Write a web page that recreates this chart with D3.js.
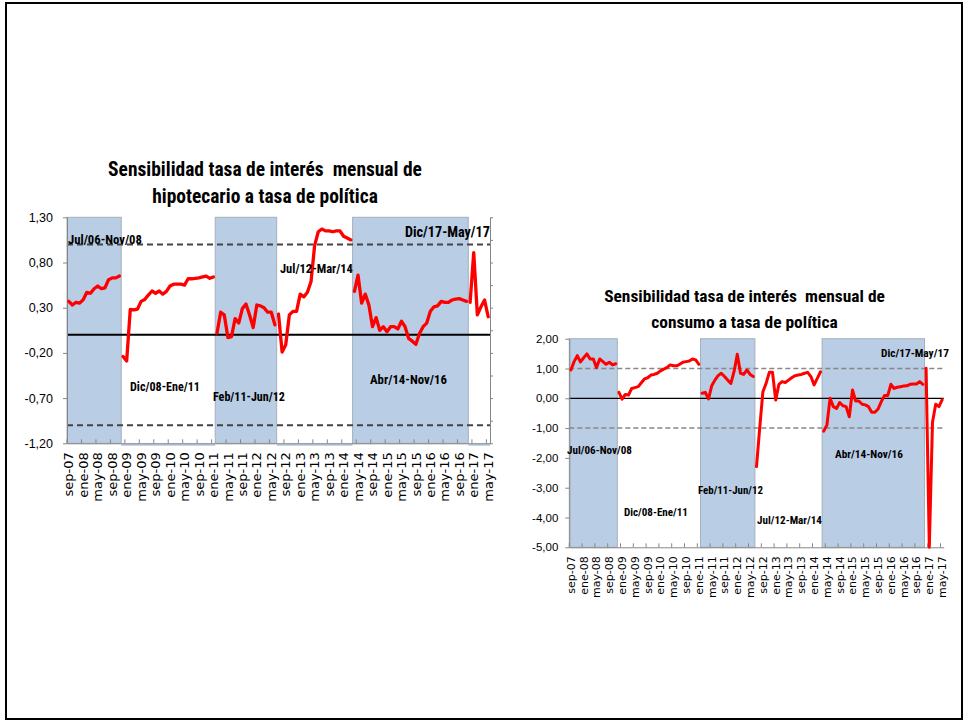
<!DOCTYPE html>
<html><head><meta charset="utf-8">
<script src="https://cdn.jsdelivr.net/npm/d3@7"></script>
<style>
body{margin:0;background:#fff}
svg{display:block}
text{white-space:pre}
</style>
</head><body>
<svg id="c" width="966" height="721"></svg>
<script>
// ---------------- DATA ----------------
const monthAbbr = ["ene","feb","mar","abr","may","jun","jul","ago","sep","oct","nov","dic"];
const firstMonth = 8, firstYear = 7, nMonths = 117; // sep-07 .. may-17
const categories = d3.range(nMonths).map(i => monthAbbr[(firstMonth + i) % 12] + "-" + String(firstYear + Math.floor((firstMonth + i) / 12)).padStart(2, "0"));
const tickLabels = ["sep-07","ene-08","may-08","sep-08","ene-09","may-09","sep-09","ene-10","may-10","sep-10",
  "ene-11","may-11","sep-11","ene-12","may-12","sep-12","ene-13","may-13","sep-13","ene-14",
  "may-14","sep-14","ene-15","may-15","sep-15","ene-16","may-16","sep-16","ene-17","may-17"];

const regimeNames  = ["Jul/06-Nov/08","Dic/08-Ene/11","Feb/11-Jun/12","Jul/12-Mar/14","Abr/14-Nov/16","Dic/17-May/17"];
const regimeStart  = ["sep-07","dic-08","feb-11","jul-12","abr-14","dic-16"];
const regimeEnd    = ["nov-08","ene-11","jun-12","mar-14","nov-16","may-17"];
const regimeShaded = [true,false,true,false,true,false];

const hipTitle = ["Sensibilidad tasa de interés  mensual de","hipotecario a tasa de política"];
const hipTickValues = [1.3,0.8,0.3,-0.2,-0.7,-1.2];
const hipTickLabels = ["1,30","0,80","0,30","-0,20","-0,70","-1,20"];
const hipValues = [
  0.37,0.33,0.36,0.35,0.39,0.47,0.46,0.51,0.54,0.51,0.52,0.61,0.63,0.63,0.65,
  -0.24,-0.29,0.28,0.275,0.285,0.37,0.39,0.44,0.485,0.46,0.485,0.45,0.48,0.54,0.56,0.56,0.56,0.55,0.62,0.62,0.625,0.63,0.64,0.65,0.625,0.64,
  0.02,0.25,0.22,-0.03,-0.02,0.18,0.13,0.29,0.34,0.22,0.08,0.33,0.32,0.30,0.25,0.25,0.11,
  0.23,-0.19,-0.11,0.22,0.26,0.26,0.45,0.42,0.47,0.59,0.99,1.14,1.17,1.15,1.15,1.14,1.15,1.15,1.09,1.07,1.05,
  0.48,0.66,0.35,0.45,0.33,0.09,0.19,0.05,0.09,0.035,0.09,0.09,0.065,0.15,0.09,-0.04,-0.07,-0.105,0.015,0.09,0.13,0.26,0.31,0.32,0.37,0.36,0.36,0.385,0.395,0.40,0.385,0.37,
  0.36,0.91,0.22,0.31,0.385,0.20
];

const conTitle = ["Sensibilidad tasa de interés  mensual de","consumo a tasa de política"];
const conTickValues = [2,1,0,-1,-2,-3,-4,-5];
const conTickLabels = ["2,00","1,00","0,00","-1,00","-2,00","-3,00","-4,00","-5,00"];
const conValues = [
  0.95,1.23,1.43,1.22,1.36,1.49,1.32,1.32,1.03,1.32,1.23,1.14,1.21,1.12,1.16,
  0.20,-0.03,0.13,0.11,0.33,0.36,0.39,0.52,0.65,0.69,0.78,0.80,0.84,0.92,0.98,1.03,1.12,1.09,1.09,1.14,1.21,1.23,1.25,1.32,1.29,1.14,
  0.17,0.20,-0.02,0.42,0.61,0.76,0.84,0.73,0.61,0.50,0.90,1.48,0.84,0.80,0.95,0.80,0.73,
  -2.29,-1.0,0.22,0.50,0.87,0.87,-0.06,0.47,0.56,0.53,0.61,0.69,0.76,0.78,0.80,0.84,0.87,0.73,0.45,0.67,0.89,
  -1.10,-0.90,0.0,-0.28,-0.34,-0.14,-0.25,-0.28,-0.62,0.28,-0.09,-0.09,-0.20,-0.22,-0.28,-0.47,-0.47,-0.36,-0.11,0.09,0.09,0.47,0.33,0.37,0.39,0.41,0.42,0.47,0.48,0.48,0.56,0.47,
  1.01,-5.0,-0.8,-0.2,-0.28,-0.05
];

// ---------------- DRAW ----------------
const svg = d3.select("#c");
svg.append("rect").attr("width",966).attr("height",721).attr("fill","#fff");
svg.append("rect").attr("x",6).attr("y",3).attr("width",956).attr("height",716)
  .attr("fill","none").attr("stroke","#000").attr("stroke-width",2);

const NARROW = "'Liberation Sans Narrow','Arial Narrow','Roboto Condensed','Liberation Sans',sans-serif";

function fit(sel, target){
  const w = sel.node().getComputedTextLength();
  const fs = parseFloat(sel.attr("font-size"));
  const nf = fs * target / w;
  sel.attr("font-size", nf);
  return nf;
}

function drawChart(cfg){
  const g = svg.append("g");
  const x = d3.scaleBand().domain(categories).range([cfg.x0, cfg.x1]).padding(0);
  const bw = x.bandwidth();
  const cx = c => x(c) + bw/2;
  const y = d3.scaleLinear().domain(cfg.domain).range([cfg.yBottom, cfg.yTop]);
  const [ymin, ymax] = cfg.domain;

  // regime bands
  regimeNames.forEach((name, r) => {
    const xs = x(regimeStart[r]), xe = x(regimeEnd[r]) + bw;
    if (regimeShaded[r]) {
      g.append("rect").attr("x", xs).attr("y", y(ymax)).attr("width", xe - xs).attr("height", y(ymin) - y(ymax))
        .attr("fill", "#b9cde5").attr("stroke", "#a6b0bb").attr("stroke-width", 1);
    } else if (cfg.strip) {
      g.append("rect").attr("x", xs).attr("y", y(ymin)).attr("width", xe - xs).attr("height", 2.5)
        .attr("fill", "#b9cde5");
    }
  });

  // reference lines
  [1, -1].forEach(v => {
    g.append("line").attr("x1", cfg.x0).attr("x2", cfg.x1).attr("y1", y(v)).attr("y2", y(v))
      .attr("stroke", cfg.dashColor).attr("stroke-width", cfg.dashWidth).attr("stroke-dasharray", cfg.dash);
  });
  g.append("line").attr("x1", cfg.x0).attr("x2", cfg.x1).attr("y1", y(0)).attr("y2", y(0))
    .attr("stroke", "#000").attr("stroke-width", cfg.zeroWidth);

  // left axis
  const ya = g.append("g").attr("transform", `translate(${cfg.x0},0)`)
    .call(d3.axisLeft(y).tickValues(cfg.tickValues).tickFormat((d, i) => cfg.tickLabels[i]).tickSizeInner(4).tickSizeOuter(0).tickPadding(cfg.yPad));
  ya.select(".domain").attr("stroke", "#868686");
  ya.selectAll(".tick line").attr("stroke", "#868686");
  ya.selectAll("text").attr("font-family", "'Liberation Sans',Arial,sans-serif").attr("font-size", cfg.yFont).attr("fill", "#000");

  // right minor axis
  if (cfg.rightAxis) {
    const ra = g.append("g").attr("transform", `translate(${cfg.x1},0)`)
      .call(d3.axisRight(y).tickValues(d3.range(0, 11).map(k => ymin + k * 0.25)).tickFormat("").tickSizeInner(3).tickSizeOuter(0));
    ra.select(".domain").attr("stroke", "#868686");
    ra.selectAll(".tick line").attr("stroke", "#868686");
  }

  // bottom axis
  const labelCats = categories.filter(c => tickLabels.includes(c));
  const xa = g.append("g").attr("transform", `translate(0,${cfg.yBottom})`)
    .call(d3.axisBottom(x).tickValues(labelCats).tickSize(0).tickPadding(0));
  xa.select(".domain").attr("stroke", "#868686");
  xa.selectAll("text")
    .attr("transform", "rotate(-90)").attr("text-anchor", "end")
    .attr("x", -cfg.xLabOff).attr("y", 0).attr("dy", "0.36em")
    .attr("font-family", "'DejaVu Sans',sans-serif").attr("font-size", cfg.xFont).attr("fill", "#000");
  // upward tick marks every 4 months
  g.append("g").selectAll("line").data(d3.range(0, nMonths + 1, 4)).join("line")
    .attr("x1", i => cfg.x0 + i * bw).attr("x2", i => cfg.x0 + i * bw)
    .attr("y1", cfg.yBottom).attr("y2", cfg.yBottom - 4)
    .attr("stroke", "#868686").attr("stroke-width", 1);

  // series
  const line = d3.line().x(c => cx(c)).y(c => y(cfg.values[categories.indexOf(c)]));
  regimeNames.forEach((name, r) => {
    const cats = categories.slice(categories.indexOf(regimeStart[r]), categories.indexOf(regimeEnd[r]) + 1);
    g.append("path").datum(cats).attr("d", line).attr("fill", "none")
      .attr("stroke", "#ff0000").attr("stroke-width", cfg.lineWidth)
      .attr("stroke-linejoin", "round").attr("stroke-linecap", "round");
  });

  // regime annotations
  regimeNames.forEach((name, r) => {
    const a = cfg.ann[r];
    const t = g.append("text").attr("x", a[0]).attr("y", a[1]).text(name)
      .attr("font-family", NARROW).attr("font-weight", "bold").attr("font-size", 13).attr("fill", "#000");
    fit(t, a[2]);
  });

  // title
  const t1 = g.append("text").attr("x", cfg.titleX).attr("y", cfg.titleY[0]).attr("text-anchor", "middle")
    .attr("font-family", NARROW).attr("font-weight", "bold").attr("font-size", 18).attr("fill", "#000").text(cfg.title[0]);
  const fs = fit(t1, cfg.titleW);
  g.append("text").attr("x", cfg.titleX).attr("y", cfg.titleY[1]).attr("text-anchor", "middle")
    .attr("font-family", NARROW).attr("font-weight", "bold").attr("font-size", fs).attr("fill", "#000").text(cfg.title[1]);
}

drawChart({
  x0: 67, x1: 490, yTop: 217.3, yBottom: 443.3, domain: [-1.2, 1.3],
  values: hipValues, tickValues: hipTickValues, tickLabels: hipTickLabels,
  yFont: 12.5, yPad: 10, xFont: 13, xLabOff: 9,
  dashColor: "#444", dashWidth: 2, dash: "6,4", zeroWidth: 2, lineWidth: 3.3,
  rightAxis: true, strip: true,
  ann: [[68,244,74],[130,391,70],[213,401,72],[280,273,73],[370,384,77],[405,237,85]],
  title: hipTitle, titleX: 265, titleY: [176, 203], titleW: 314
});

drawChart({
  x0: 569.3, x1: 943.7, yTop: 338.7, yBottom: 547.3, domain: [-5, 2],
  values: conValues, tickValues: conTickValues, tickLabels: conTickLabels,
  yFont: 11.5, yPad: 7, xFont: 11, xLabOff: 9,
  dashColor: "#888", dashWidth: 1.5, dash: "5,3", zeroWidth: 1.3, lineWidth: 3,
  rightAxis: false, strip: false,
  ann: [[567,454,65],[624,516,64],[698,494,65],[757,524,65],[835,458,68],[881,357,68]],
  title: conTitle, titleX: 744.5, titleY: [302, 328], titleW: 281
});
</script>
</body></html>
